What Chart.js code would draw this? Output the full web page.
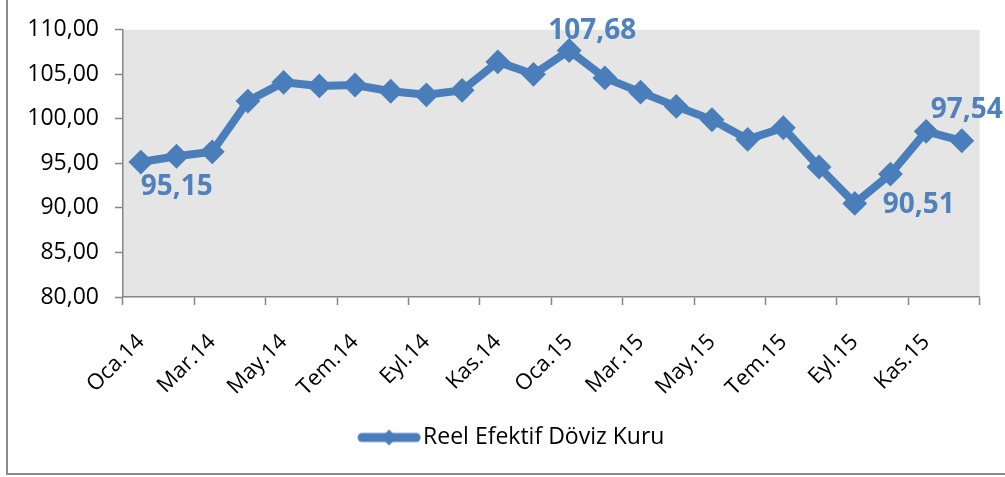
<!DOCTYPE html>
<html>
<head>
<meta charset="utf-8">
<script src="https://cdn.jsdelivr.net/npm/chart.js@4/dist/chart.umd.min.js"></script>
<style>
  html, body { margin: 0; padding: 0; background: #fff; }
  #wrap { position: relative; width: 1005px; height: 477px; }
</style>
</head>
<body>
<div id="wrap"><canvas id="c" width="1005" height="477"></canvas></div>
<script>
// ---- data ----
const categories = ['Oca.14','Şub.14','Mar.14','Nis.14','May.14','Haz.14','Tem.14','Ağu.14','Eyl.14','Eki.14','Kas.14','Ara.14',
                    'Oca.15','Şub.15','Mar.15','Nis.15','May.15','Haz.15','Tem.15','Ağu.15','Eyl.15','Eki.15','Kas.15','Ara.15'];
const reelEfektifDovizKuru = [95.15, 95.8, 96.3, 102.0, 104.1, 103.7, 103.8, 103.1, 102.7, 103.2, 106.4, 105.0,
                              107.68, 104.6, 103.0, 101.4, 99.9, 97.7, 99.0, 94.6, 90.51, 93.8, 98.6, 97.54];
const seriesName = 'Reel Efektif Döviz Kuru';
const yMin = 80, yMax = 110, yStep = 5;
const labelledIndices = [0, 12, 20, 23];

// ---- styles ----
const LINE = '#4A7EBB';
const LABEL = '#4F81BD';
const AXIS = '#868686';
const FONT = "'Open Sans', 'DejaVu Sans', sans-serif";
const labelOffsets = { 0: [36, 25], 12: [23, -19], 20: [64, 2], 23: [5, -31] };
const legendShift = 25;

const fmt = v => v.toFixed(2).replace('.', ',');

// legend symbol (line with diamond)
const sym = document.createElement('canvas');
sym.width = 64; sym.height = 24;
(function () {
  const g = sym.getContext('2d');
  g.strokeStyle = LINE; g.lineWidth = 9; g.lineCap = 'round';
  g.beginPath(); g.moveTo(5, 12); g.lineTo(59, 12); g.stroke();
  g.fillStyle = LINE;
  g.beginPath(); g.moveTo(32, 4); g.lineTo(40, 12); g.lineTo(32, 20); g.lineTo(24, 12); g.closePath(); g.fill();
})();

const framePlugin = {
  id: 'frame',
  afterLayout(chart) {
    if (chart.legend) { chart.legend.left += legendShift; chart.legend.right += legendShift; }
  },
  beforeDraw(chart) {
    const { ctx, chartArea: a } = chart;
    ctx.save();
    ctx.fillStyle = '#E5E5E5';
    ctx.fillRect(a.left, a.top, a.right - a.left, a.bottom - a.top);
    ctx.strokeStyle = '#8A8A8A';
    ctx.lineWidth = 2;
    ctx.beginPath();
    ctx.moveTo(7, 0); ctx.lineTo(7, 474); ctx.lineTo(1005, 474);
    ctx.stroke();
    ctx.restore();
  }
};

const dataLabelPlugin = {
  id: 'dlabels',
  afterDatasetsDraw(chart) {
    const { ctx } = chart;
    const meta = chart.getDatasetMeta(0);
    ctx.save();
    ctx.font = "bold 28px " + FONT;
    ctx.fillStyle = LABEL;
    ctx.textAlign = 'center';
    ctx.textBaseline = 'middle';
    labelledIndices.forEach(i => {
      const p = meta.data[i];
      const o = labelOffsets[i];
      ctx.fillText(fmt(reelEfektifDovizKuru[i]), p.x + o[0], p.y + o[1]);
    });
    ctx.restore();
  }
};

new Chart(document.getElementById('c'), {
  type: 'line',
  data: {
    labels: categories,
    datasets: [{
      label: seriesName,
      data: reelEfektifDovizKuru,
      borderColor: LINE,
      backgroundColor: LINE,
      borderWidth: 8,
      borderJoinStyle: 'round',
      pointStyle: 'rectRot',
      pointRadius: 11,
      pointBorderWidth: 2,
      pointBackgroundColor: LINE,
      pointBorderColor: LINE,
      tension: 0
    }]
  },
  options: {
    responsive: false,
    devicePixelRatio: 1,
    animation: false,
    layout: { padding: { top: 28, right: 24, bottom: 18, left: 0 } },
    plugins: {
      tooltip: { enabled: false },
      legend: {
        position: 'bottom',
        labels: {
          usePointStyle: true,
          pointStyle: sym,
          pointStyleWidth: 45,
          boxHeight: 20,
          padding: 10,
          color: '#000',
          font: { family: FONT, size: 23 }
        }
      }
    },
    scales: {
      x: {
        offset: true,
        afterFit(s) { s.height = 119; },
        grid: {
          offset: true,
          drawOnChartArea: false,
          drawTicks: true,
          tickLength: 8,
          tickWidth: 1.5,
          tickColor: ctx => (ctx.type !== 'tick' || ctx.index % 2 === 0) ? AXIS : 'rgba(0,0,0,0)'
        },
        border: { display: true, color: AXIS, width: 1.5 },
        ticks: {
          autoSkip: false,
          minRotation: 45,
          maxRotation: 45,
          padding: 24,
          color: '#000',
          font: { family: FONT, size: 22 },
          callback(v, i) { return i % 2 === 0 ? categories[i] : ''; }
        }
      },
      y: {
        min: yMin,
        max: yMax,
        afterFit(s) { s.width = 123; },
        grid: {
          drawOnChartArea: false,
          drawTicks: true,
          tickLength: 8,
          tickWidth: 1.5,
          tickColor: AXIS
        },
        border: { display: true, color: AXIS, width: 1.5 },
        ticks: {
          stepSize: yStep,
          padding: 16,
          color: '#000',
          font: { family: FONT, size: 23 },
          callback: v => fmt(v)
        }
      }
    }
  },
  plugins: [framePlugin, dataLabelPlugin]
});
</script>
</body>
</html>
